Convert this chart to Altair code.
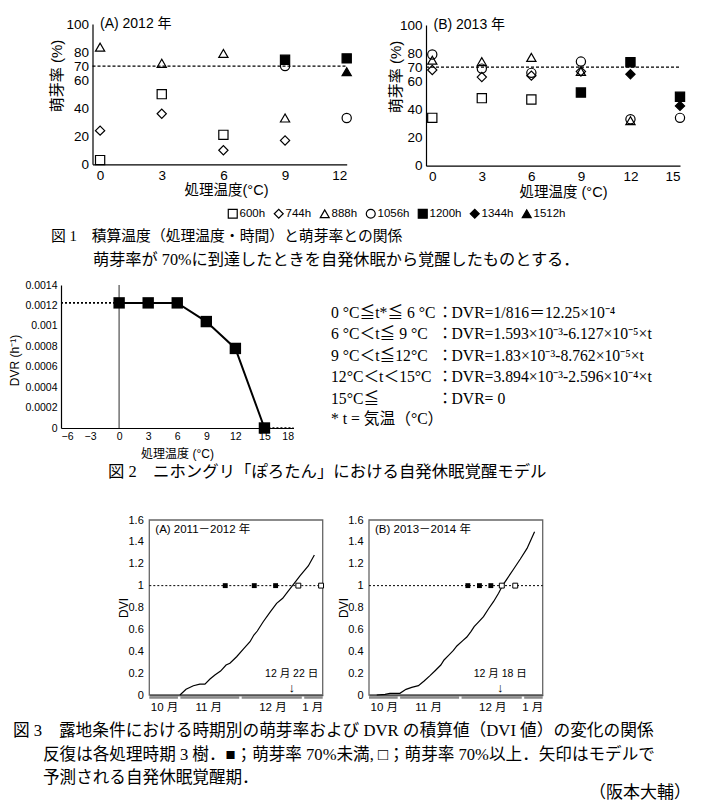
import altair as alt
import pandas as pd

SANS = "Liberation Sans, Arial, Noto Sans CJK JP, sans-serif"
SERIF = "Liberation Serif, Noto Sans CJK JP, serif"
W, H = 689, 793  # whole drawing area (page minus 8px margins)

# ---------------- 図1 data ----------------
durations = ["600h", "744h", "888h", "1056h", "1200h", "1344h", "1512h"]
marker_shapes = ["square", "diamond", "triangle-up", "circle", "square", "diamond", "triangle-up"]
marker_fills = ["transparent", "transparent", "transparent", "transparent", "black", "black", "black"]
marker_strokes = ["black"] * 7

temps_2012 = [0, 3, 6, 9, 12]
y2012_600h = [3, 50, 21, None, None]
y2012_744h = [24, 36, 10, 17, None]
y2012_888h = [83.5, 72, 79, 33, None]
y2012_1056h = [None, None, None, 70, 33]
y2012_1200h = [None, None, None, 74.5, 75.5]
y2012_1344h = [None, None, None, None, None]
y2012_1512h = [None, None, None, None, 66]

temps_2013 = [0, 3, 6, 9, 12, 15]
y2013_600h = [34, 48, 47, None, None, None]
y2013_744h = [68, 63, 64, 67, None, None]
y2013_888h = [75, 74, 77, 67, 32, None]
y2013_1056h = [79, 69, 66, 74, 33, 34]
y2013_1200h = [None, None, None, 52, 73.5, 49]
y2013_1344h = [None, None, None, None, 65, 42.5]
y2013_1512h = [None, None, None, None, None, None]

# ---------------- 図2 data ----------------
dvr_temp = [0, 3, 6, 9, 12, 15]
dvr_rate = [0.001225, 0.001225, 0.001225, 0.001042, 0.000779, 0.0]
dvr_low_temp = [-6, 0]
dvr_low_rate = [0.001225, 0.001225]
dvr_high_temp = [15, 18]
dvr_high_rate = [0.0, 0.0]

eq_conditions = ["0 °C≦t*≦ 6 °C", "6 °C＜t≦ 9 °C", "9 °C＜t≦12°C", "12°C＜t＜15°C", "15°C≦",
                 "* t =  気温（°C）"]
eq_formulas = ["DVR=1/816＝12.25×10⁻⁴", "DVR=1.593×10⁻³-6.127×10⁻⁵×t", "DVR=1.83×10⁻³-8.762×10⁻⁵×t",
               "DVR=3.894×10⁻³-2.596×10⁻⁴×t", "DVR= 0", ""]

# ---------------- 図3 data (days from 1 Nov) ----------------
month_names = ["10 月", "11 月", "12 月", "1 月"]
month_start = [-14.7, 0.6, 30.8, 61.6]
month_end = [-0.6, 29.6, 60.4, 70.7]
month_mid = [-7.2, 14.6, 46.2, 65.8]

a_days = [0.4, 3.4, 7.0, 10.2, 12.7, 15.2, 17.6, 20.4, 23.1, 25.0, 28.3, 31.6, 34.9, 36.8, 38.5,
          41.4, 44.7, 48.0, 51.0, 53.7, 56.2, 59.5, 63.6, 66.6]
a_dvi = [0, 0.052, 0.085, 0.10, 0.10, 0.146, 0.183, 0.219, 0.274, 0.29, 0.35, 0.42, 0.487, 0.548,
         0.585, 0.67, 0.756, 0.838, 0.884, 0.95, 1.01, 1.09, 1.18, 1.28]
a_below70 = [22.7, 37.0, 47.5]
a_above70 = [58.7, 69.9]
a_arrow_day = 55.4
a_arrow_text = "12 月 22 日"

b_days = [-10.9, -6.8, -4.4, 0.5, 3.5, 6.3, 9.6, 12.4, 15.3, 17.8, 20.6, 22.2, 24.3, 26.8, 28.5,
          31.4, 33.4, 35.4, 37.0, 39.1, 41.6, 44.0, 46.5, 49.0, 51.1, 53.1, 56.1, 59.7, 63.0, 66.7]
b_dvi = [0, 0.006, 0.015, 0.015, 0.052, 0.07, 0.085, 0.128, 0.177, 0.222, 0.274, 0.32, 0.36, 0.408,
         0.448, 0.497, 0.53, 0.58, 0.625, 0.667, 0.716, 0.786, 0.853, 0.93, 1.005, 1.06, 1.143,
         1.243, 1.34, 1.493]
b_below70 = [33.9, 39.6, 45.2]
b_above70 = [50.6, 57.2]
b_arrow_day = 49.8
b_arrow_text = "12 月 18 日"


# ---------------- helpers ----------------
def one(**kw):
    return pd.DataFrame({k: [v] for k, v in kw.items()})


def text_at(text, x, y, size, font=SANS, align="left", baseline="middle"):
    return alt.Chart(one(t=text)).mark_text(
        align=align, baseline=baseline, fontSize=size, font=font, color="black", x=x, y=y
    ).encode(text="t:N")


def table1(temps, cols):
    rows = []
    for dur, vals in zip(durations, cols):
        for t, v in zip(temps, vals):
            if v is not None:
                rows.append({"temp": t, "rate": v, "dur": dur})
    return pd.DataFrame(rows)


legend1 = alt.Legend(orient="none", legendX=219, legendY=200, direction="horizontal", title=None,
                     labelFont=SANS, labelFontSize=11.5, labelColor="black", symbolSize=80,
                     symbolStrokeColor="black", symbolStrokeWidth=1.2, columnPadding=5,
                     gridAlign="none", labelOffset=1, padding=0)
shape_scale = alt.Scale(domain=durations, range=marker_shapes)
fill_scale = alt.Scale(domain=durations, range=marker_fills)
stroke_scale = alt.Scale(domain=durations, range=marker_strokes)


# ---------------- 図1 ----------------
def fig1(df, ticks, dom, xr, yr, label, xtitle, xtitle_x, ytitle_x, ytitle_y):
    xsc = alt.Scale(domain=dom, range=xr, nice=False, zero=False)
    ysc = alt.Scale(domain=[0, 100], range=yr, nice=False)
    xax = alt.Axis(orient="bottom", offset=-(H - yr[0]), values=ticks, format="d", title=xtitle,
                   titleX=xtitle_x, titleY=26.5, titleAlign="center", titleBaseline="middle",
                   labelFontSize=13.5, titleFontSize=14.5, labelPadding=4, ticks=False)
    yax = alt.Axis(orient="left", offset=-xr[0], values=[0, 20, 40, 60, 70, 80, 100], format="d",
                   title="萌芽率 (%)", titleX=ytitle_x, titleY=ytitle_y, titleAlign="center",
                   titleBaseline="middle", labelFontSize=13.5, titleFontSize=15,
                   labelPadding=4, ticks=False, labelOverlap=False)
    pts = alt.Chart(df).mark_point(size=85, strokeWidth=1.2, opacity=1).encode(
        x=alt.X("temp:Q", scale=xsc, axis=xax),
        y=alt.Y("rate:Q", scale=ysc, axis=yax),
        shape=alt.Shape("dur:N", scale=shape_scale, legend=legend1),
        fill=alt.Fill("dur:N", scale=fill_scale, legend=legend1),
        stroke=alt.Stroke("dur:N", scale=stroke_scale, legend=legend1),
    )
    thr = alt.Chart(one(temp=dom[0], temp2=dom[1], rate=70)).mark_rule(
        color="black", strokeDash=[3, 2], strokeWidth=1.3).encode(x="temp:Q", x2="temp2:Q", y="rate:Q")
    lab = text_at(label, xr[0] + 7.5, yr[1], 14)
    return alt.layer(thr, pts, lab)


df2012 = table1(temps_2012, [y2012_600h, y2012_744h, y2012_888h, y2012_1056h, y2012_1200h,
                             y2012_1344h, y2012_1512h])
df2013 = table1(temps_2013, [y2013_600h, y2013_744h, y2013_888h, y2013_1056h, y2013_1200h,
                             y2013_1344h, y2013_1512h])

fig1a = fig1(df2012, [0, 3, 6, 9, 12], [-0.37, 12], [84.5, 338.7], [156.3, 16],
             "(A) 2012 年", "処理温度(°C)", 218, -36, 67.5)
fig1b = fig1(df2013, [0, 3, 6, 9, 12, 15], [-0.38, 15], [418, 672], [157.7, 17],
             "(B) 2013 年", "処理温度 (°C)", 555, -31, 68.5)

# ---------------- 図2 ----------------
X2R, Y2R = [53, 285.5], [420, 277]
xsc2 = alt.Scale(domain=[-6, 18], range=X2R, nice=False, zero=False)
ysc2 = alt.Scale(domain=[0, 0.0014], range=Y2R, nice=False)
x2 = alt.X("temp:Q", scale=xsc2,
           axis=alt.Axis(orient="bottom", offset=-(H - Y2R[0]), values=[-6, -3, 0, 3, 6, 9, 12, 15, 18],
                         format="d", title="処理温度 (°C)", titleX=169, titleY=25, titleAlign="center",
                         titleBaseline="middle", labelFontSize=10.5, titleFontSize=12,
                         labelPadding=3, ticks=False))
y2 = alt.Y("dvr:Q", scale=ysc2,
           axis=alt.Axis(orient="left", offset=-X2R[0],
                         values=[0, 0.0002, 0.0004, 0.0006, 0.0008, 0.001, 0.0012, 0.0014], format="~g",
                         title="DVR (h⁻¹)", titleX=-47, titleY=352, titleAlign="center",
                         titleBaseline="middle", labelFontSize=10.5, titleFontSize=12,
                         labelPadding=4, ticks=False, labelOverlap=False))
df2_main = pd.DataFrame({"temp": dvr_temp, "dvr": dvr_rate})
df2_ext = pd.concat([
    pd.DataFrame({"temp": dvr_low_temp, "dvr": dvr_low_rate, "seg": "low"}),
    pd.DataFrame({"temp": dvr_high_temp, "dvr": dvr_high_rate, "seg": "high"}),
])
main_line = alt.Chart(df2_main).mark_line(color="black", strokeWidth=2).encode(x=x2, y=y2)
vline = alt.Chart(one(temp=0, dvr=0, dvr2=0.0014)).mark_rule(color="#7a7a7a", strokeWidth=1.6).encode(
    x="temp:Q", y="dvr:Q", y2="dvr2:Q")
ext = alt.Chart(df2_ext).mark_line(color="black", strokeDash=[2, 2], strokeWidth=1.6).encode(
    x="temp:Q", y="dvr:Q", detail="seg:N")
main_pts = alt.Chart(df2_main).mark_point(shape="square", filled=True, color="black", size=130,
                                          opacity=1).encode(x="temp:Q", y="dvr:Q")
fig2 = alt.layer(main_line, vline, ext, main_pts)

eq_rows = [304.7, 326.3, 348, 369.3, 391, 411.3]
eq_layers = []
for cond, form, yy in zip(eq_conditions, eq_formulas, eq_rows):
    eq_layers.append(text_at(cond, 323, yy, 15.7, SERIF))
    if form:
        eq_layers.append(text_at("：", 437, yy, 15.7, SERIF, align="center"))
        eq_layers.append(text_at(form, 443.5, yy, 15.7, SERIF))

# ---------------- 図3 ----------------
Y3R = [687, 512]
month_df = pd.DataFrame({"name": month_names, "start": month_start, "end": month_end, "mid": month_mid})


def fig3(xr, days, dvi, below, above, arrow_day, arrow_text, label):
    xsc = alt.Scale(domain=[-14.7, 70.7], range=xr, nice=False, zero=False)
    ysc = alt.Scale(domain=[0, 1.6], range=Y3R, nice=False)
    xenc = alt.X("day:Q", scale=xsc,
                 axis=alt.Axis(orient="bottom", offset=-(H - Y3R[0]), labels=False, ticks=False,
                               title=None, domainColor="#222", domainWidth=1.3))
    yenc = alt.Y("dvi:Q", scale=ysc,
                 axis=alt.Axis(orient="left", offset=-xr[0],
                               values=[0, 0.2, 0.4, 0.6, 0.8, 1, 1.2, 1.4, 1.6], format="~g",
                               title="DVI", titleX=-26, titleAlign="center", titleBaseline="middle",
                               labelFontSize=11, titleFontSize=12, labelPadding=6, ticks=False,
                               domain=False, labelOverlap=False))
    frame = alt.Chart(one(day=-14.7, day2=70.7, dvi=0, dvi2=1.6)).mark_rect(
        fillOpacity=0, stroke="#666", strokeWidth=1.3).encode(
        x=xenc, x2="day2:Q", y=yenc, y2="dvi2:Q")
    curve = alt.Chart(pd.DataFrame({"day": days, "dvi": dvi})).mark_line(
        color="black", strokeWidth=1.2).encode(x="day:Q", y="dvi:Q")
    thr = alt.Chart(one(day=-14.7, day2=70.7, dvi=1)).mark_rule(
        color="black", strokeDash=[2, 2], strokeWidth=1).encode(x="day:Q", x2="day2:Q", y="dvi:Q")
    filled = alt.Chart(pd.DataFrame({"day": below, "dvi": [1] * len(below)})).mark_point(
        shape="square", filled=True, color="black", size=24, opacity=1).encode(x="day:Q", y="dvi:Q")
    opened = alt.Chart(pd.DataFrame({"day": above, "dvi": [1] * len(above)})).mark_point(
        shape="square", fill="white", stroke="black", strokeWidth=1, size=24, opacity=1).encode(
        x="day:Q", y="dvi:Q")
    arrow_lab = alt.Chart(one(day=arrow_day, dvi=0.19, t=arrow_text)).mark_text(
        fontSize=10.5, font=SANS, color="black", baseline="middle").encode(
        x="day:Q", y="dvi:Q", text="t:N")
    arrow = alt.Chart(one(day=arrow_day, dvi=0.06, t="↓")).mark_text(
        fontSize=13, font=SANS, color="black", baseline="middle").encode(
        x="day:Q", y="dvi:Q", text="t:N")
    seg = alt.Chart(month_df).mark_rule(color="#8a8a8a", strokeWidth=2.5).encode(
        x=alt.X("start:Q"), x2="end:Q", y=alt.value(Y3R[0] + 2.5))
    mlab = alt.Chart(month_df).mark_text(fontSize=11.5, font=SANS, color="black",
                                         baseline="middle").encode(
        x="mid:Q", y=alt.value(Y3R[0] + 13), text="name:N")
    lab = text_at(label, xr[0] + 6, Y3R[1] + 10, 11.5)
    return alt.layer(frame, curve, thr, filled, opened, arrow_lab, arrow, seg, mlab, lab)


fig3a = fig3([141.3, 314.7], a_days, a_dvi, a_below70, a_above70, a_arrow_day, a_arrow_text,
             "(A) 2011－2012 年")
fig3b = fig3([361, 534.7], b_days, b_dvi, b_below70, b_above70, b_arrow_day, b_arrow_text,
             "(B) 2013－2014 年")

# ---------------- captions ----------------
captions = [
    text_at("図 1　積算温度（処理温度・時間）と萌芽率との関係", 43, 229, 14.8, SERIF),
    text_at("萌芽率が 70%に到達したときを自発休眠から覚醒したものとする．", 85, 252, 16.2, SERIF),
    text_at("図 2　ニホングリ「ぽろたん」における自発休眠覚醒モデル", 100, 464, 16.4, SERIF),
    text_at("図 3　露地条件における時期別の萌芽率および DVR の積算値（DVI 値）の変化の関係", 5, 723, 16.7, SERIF),
    text_at("反復は各処理時期 3 樹．■；萌芽率 70%未満, □；萌芽率 70%以上．矢印はモデルで", 35, 747, 16.6, SERIF),
    text_at("予測される自発休眠覚醒期．", 35, 770, 16.6, SERIF),
    text_at("（阪本大輔）", 683, 785, 17, SERIF, align="right"),
]

chart = alt.layer(fig1a, fig1b, fig2, fig3a, fig3b, *eq_layers, *captions).resolve_scale(
    x="independent", y="independent"
).resolve_axis(
    x="independent", y="independent"
).properties(
    width=W, height=H, padding=0, autosize=alt.AutoSizeParams(type="none")
).configure_view(stroke="transparent").configure_axis(
    labelFont=SANS, titleFont=SANS, labelColor="black", titleColor="black", domainColor="black",
    titleFontWeight="normal", grid=False, domainWidth=1.2
)

chart.save("out.html", embed_options={"renderer": "svg", "actions": False})
